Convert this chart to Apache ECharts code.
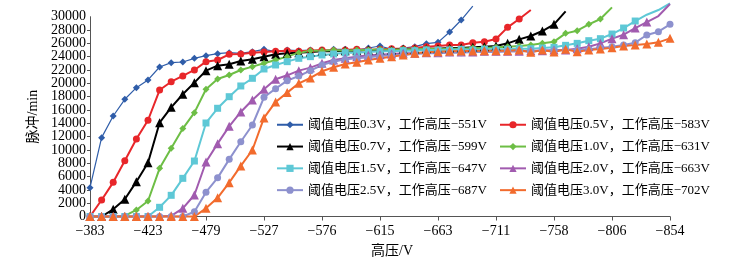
<!DOCTYPE html>
<html><head><meta charset="utf-8">
<script src="https://cdn.jsdelivr.net/npm/echarts@6/dist/echarts.min.js"></script>
<style>html,body{margin:0;padding:0;background:#fff}#c{width:750px;height:267px}</style>
</head><body><div id="c"></div>
<script>
// x positions: 51 measurement steps, tick label every 5th step
const xTickLabels = ['−383','−423','−479','−527','−576','−615','−663','−711','−758','−806','−854'];
const yTicks = [0,2000,4000,6000,8000,10000,12000,14000,16000,18000,20000,22000,24000,26000,28000,30000];
const seriesNames = [
 '阈值电压0.3V，工作高压−551V','阈值电压0.5V，工作高压−583V',
 '阈值电压0.7V，工作高压−599V','阈值电压1.0V，工作高压−631V',
 '阈值电压1.5V，工作高压−647V','阈值电压2.0V，工作高压−663V',
 '阈值电压2.5V，工作高压−687V','阈值电压3.0V，工作高压−702V'];

const v03 = [4330,11840,15090,17600,19340,20500,22450,23100,23200,23750,24150,24450,24600,24500,24750,25100,24750,25000,24900,25000,24800,25100,25100,25000,25300,25600,25100,25300,25500,25950,26150,27700,29500,31600];
const v05 = [0,2480,5130,8380,11640,14450,18990,20240,21100,22000,23250,23500,24350,24400,24600,24700,24800,24900,24800,24900,25000,24900,25000,25100,25000,25100,25200,25200,25300,25500,25600,25750,25750,26100,26250,26650,28400,29650,31000];
const v07 = [0,0,1080,2580,5230,8080,14090,16390,18350,20100,21900,22650,22850,23350,23600,24000,24350,24500,24600,24700,24800,24800,24900,24900,25000,25000,25000,25100,25100,25200,25200,25300,25300,25400,25500,25600,26000,26600,27100,27850,28850,30800];
const v10 = [0,0,0,100,980,2330,7230,10240,13200,15590,19100,20650,21250,22000,22500,23000,23500,24000,24600,24900,24900,25000,24900,25000,25000,25100,25000,25100,25100,25200,25100,25200,25200,25300,25300,25400,25500,25600,25750,26000,26250,27500,27900,28850,29650,31400];
const v15 = [0,0,0,0,0,0,1380,3180,5730,8330,14040,16250,17990,19600,20750,22150,22750,23250,23750,24000,24250,24400,24600,24600,24700,24800,24800,24900,24900,25000,25000,25000,25100,25000,25100,25100,25100,25200,25200,25300,25400,25700,26000,26400,26700,27400,28300,29350,30300,31000,32000];
const v20 = [0,0,0,0,0,0,0,100,1230,3230,8180,10940,13540,15700,17500,19100,20600,21200,21900,22350,23000,23500,23750,24000,24200,24300,24400,24500,24500,24600,24600,24700,24700,24700,24800,24800,24800,24800,24900,24900,25000,25000,25200,25500,26000,26700,27300,28300,29200,30100,31900];
const v25 = [0,0,0,0,0,0,0,0,0,720,3650,5800,8580,11230,13740,17900,19200,20400,21100,21900,22750,23250,23600,23750,23900,24100,24250,24300,24400,24500,24500,24600,24600,24700,24700,24700,24800,24800,24800,24900,24900,25000,25000,25100,25300,25500,25750,26100,27250,27750,28850];
const v30 = [0,0,0,0,0,0,0,0,0,0,1230,2800,5080,7600,9990,14800,17200,18600,20000,20800,21800,22400,22900,23150,23500,23750,24000,24250,24500,24650,24750,24800,24850,24850,24900,24900,24900,25000,24650,25000,24700,25100,24750,25000,25150,25350,25600,25750,25900,26150,26750];

const allValues = [v03,v05,v07,v10,v15,v20,v25,v30];
const colors = ['#2F5DA9','#E8262A','#000000','#6DBE45','#5EC8D6','#A15BAF','#8D91CE','#F26B2D'];
const symbols = ['diamond','circle','triangle','diamond','rect','triangle','circle','triangle'];
const symbolSizes = [7,7,9,7,7,9,7,9];
const lineWidths = [1.2,2,2,2,2,2,2,2];
const YMAX = 30000;

const serif = '"Liberation Serif","Noto Sans CJK SC",serif';
const series = allValues.map((vals, k) => ({
  name: seriesNames[k], type: 'line', clip: false, yAxisIndex: 0,
  symbol: symbols[k], symbolSize: symbolSizes[k],
  itemStyle: {color: colors[k]},
  lineStyle: {color: colors[k], width: lineWidths[k]},
  data: vals.map((v, i) => v > YMAX ? {value: [i, v], symbol: 'none'} : [i, v])
}));

const legendCommon = {
  orient: 'vertical', top: 112, itemWidth: 26, itemHeight: 9, itemGap: 6.3,
  textStyle: {fontFamily: serif, fontSize: 13, color: '#000', lineHeight: 15.5}
};

const yMin = yTicks[0], yMax = yTicks[yTicks.length-1], yStep = yTicks[1]-yTicks[0];
const yLabelStyle = {fontFamily: serif, fontSize: 14, color: '#000', margin: 4};

const chart = echarts.init(document.getElementById('c'), null, {renderer: 'canvas'});
chart.setOption({
  animation: false,
  backgroundColor: '#fff',
  color: colors,
  grid: {left: 90, right: 80, top: 16.7, bottom: 50.5, containLabel: false},
  xAxis: {
    type: 'value', min: 0, max: 50, interval: 5,
    name: '高压/V', nameLocation: 'middle', nameGap: 28,
    nameTextStyle: {fontFamily: serif, fontSize: 14, color: '#000', padding: [0,0,0,24]},
    axisLine: {show: true, lineStyle: {color: '#555', width: 1}},
    axisTick: {show: true, length: 4, lineStyle: {color: '#555'}},
    axisLabel: {fontFamily: serif, fontSize: 14, color: '#000', margin: 8,
      showMinLabel: true, showMaxLabel: true,
      formatter: v => xTickLabels[Math.round(v / 5)] || ''},
    splitLine: {show: false}
  },
  yAxis: [{
    type: 'value', min: yMin, max: yMax, interval: yStep, position: 'left',
    name: '脉冲/min', nameLocation: 'middle', nameGap: 39, nameRotate: 90,
    nameTextStyle: {fontFamily: serif, fontSize: 14, color: '#000'},
    axisLine: {show: true, lineStyle: {color: '#555', width: 1}},
    axisTick: {show: true, length: 3, lineStyle: {color: '#555'}},
    axisLabel: Object.assign({formatter: v => String(v)}, yLabelStyle),
    splitLine: {show: false}
  }, {
    // overlay axis that only prints the end labels (0 and 30000)
    type: 'value', min: yMin, max: yMax, interval: yStep, position: 'left',
    axisLine: {show: false}, axisTick: {show: false}, splitLine: {show: false},
    axisLabel: Object.assign({showMinLabel: true, showMaxLabel: true,
      formatter: v => (v === yMin || v === yMax) ? String(v) : ''}, yLabelStyle)
  }],
  legend: [
    Object.assign({data: [seriesNames[0],seriesNames[2],seriesNames[4],seriesNames[6]], left: 271}, legendCommon),
    Object.assign({data: [seriesNames[1],seriesNames[3],seriesNames[5],seriesNames[7]], left: 494}, legendCommon)
  ],
  series: series
});
</script></body></html>
